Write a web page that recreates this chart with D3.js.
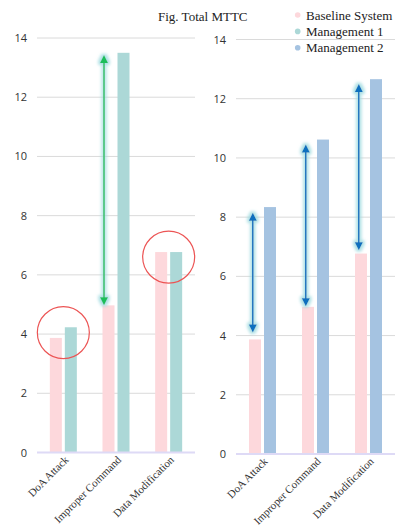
<!DOCTYPE html>
<html>
<head>
<meta charset="utf-8">
<script src="https://cdn.jsdelivr.net/npm/d3@7"></script>
<style>
  html, body { margin: 0; padding: 0; background: #fff; }
  svg { display: block; }
</style>
</head>
<body>
<div id="chart"></div>
<script>
// Mean time to contain (MTTC) per attack type
const categories = ["DoA Attack", "Improper Command", "Data Modification"];
const baseline = [3.87, 4.97, 6.77];
const management1 = [4.23, 13.5, 6.77];
const management2 = [8.34, 10.62, 12.66];
const yTicks = [0, 2, 4, 6, 8, 10, 12, 14];
const legendLabels = ["Baseline System", "Management 1", "Management 2"];

// Improvement arrows: [category index, from value, to value]
const arrowsLeft = [[1, 4.97, 13.43]];
const arrowsRight = [[0, 4.1, 8.15], [1, 4.99, 10.45], [2, 6.88, 12.5]];
// Highlight rings: [category index, centre value]
const rings = [[0, 4.05], [2, 6.6]];

const W = 398, H = 528;
const colors = { base: "#fdd8dc", m1: "#acd8d7", m2: "#a5c3e1" };
const serif = "'Liberation Serif', 'Times New Roman', serif";

const svg = d3.select("#chart").append("svg")
  .attr("width", W).attr("height", H);

// soft halo behind the arrows
const defs = svg.append("defs");
const glow = defs.append("filter").attr("id", "glow")
  .attr("x", "-200%").attr("y", "-20%").attr("width", "500%").attr("height", "140%");
glow.append("feMorphology").attr("in", "SourceAlpha").attr("operator", "dilate").attr("radius", 1.6).attr("result", "thick");
glow.append("feGaussianBlur").attr("in", "thick").attr("stdDeviation", 1.8).attr("result", "blur");
glow.append("feFlood").attr("flood-color", "#9fdbe0").attr("flood-opacity", 0.85);
glow.append("feComposite").attr("in2", "blur").attr("operator", "in").attr("result", "halo");
const merge = glow.append("feMerge");
merge.append("feMergeNode").attr("in", "halo");
merge.append("feMergeNode").attr("in", "SourceGraphic");

function panel(opts) {
  const g = svg.append("g");
  const y = d3.scaleLinear().domain([0, 14]).range([opts.y0, opts.y14]);
  const x0 = d3.scaleBand().domain(categories).range([opts.xl, opts.xr]);
  const groupW = 27;
  const x1 = d3.scaleBand().domain(["a", "b"]).range([0, groupW]).paddingInner(0.2);
  const gx = c => x0(c) + (x0.bandwidth() - groupW) / 2;

  // gridlines
  g.append("g").selectAll("line").data(yTicks.filter(t => t > 0)).join("line")
    .attr("x1", opts.xl).attr("x2", opts.xr)
    .attr("y1", d => y(d)).attr("y2", d => y(d))
    .attr("stroke", "#dadada").attr("stroke-width", 1);

  // y axis labels
  const yAxis = d3.axisLeft(y).tickValues(yTicks).tickSize(0).tickPadding(0);
  const ya = g.append("g").attr("transform", `translate(${opts.labelX},0)`).call(yAxis);
  ya.select(".domain").remove();
  ya.attr("font-family", "'Open Sans', sans-serif").attr("font-size", 11);
  ya.selectAll("text").attr("fill", "#333");

  // bars
  const series = [
    { key: "a", vals: baseline, color: colors.base },
    { key: "b", vals: opts.second, color: opts.secondColor }
  ];
  series.forEach(s => {
    g.append("g").selectAll("rect").data(categories).join("rect")
      .attr("x", c => gx(c) + x1(s.key))
      .attr("width", x1.bandwidth())
      .attr("y", (c, i) => y(s.vals[i]))
      .attr("height", (c, i) => y(0) - y(s.vals[i]))
      .attr("fill", s.color);
  });

  // zero line
  g.append("line").attr("x1", opts.xl).attr("x2", opts.xr)
    .attr("y1", y(0)).attr("y2", y(0))
    .attr("stroke", "#dedaf6").attr("stroke-width", 2);

  // category labels
  const xAxis = d3.axisBottom(x0).tickSize(0).tickPadding(0);
  const xa = g.append("g").attr("transform", `translate(0,${y(0)})`).call(xAxis);
  xa.select(".domain").remove();
  xa.attr("font-family", serif).attr("font-size", 11);
  xa.selectAll("text")
    .attr("fill", "#333")
    .attr("text-anchor", "end")
    .attr("dy", 0)
    .attr("transform", "translate(6,8) rotate(-45)");

  // arrows
  opts.arrows.forEach(([ci, from, to]) => {
    const ax = gx(categories[ci]) + x1("a") + opts.arrowOffset;
    const head = 8, hw = 4;
    const ag = g.append("g").attr("filter", "url(#glow)");
    const yTop = y(to), yBot = y(from);
    ag.append("line").attr("x1", ax).attr("x2", ax)
      .attr("y1", yTop + head - 1).attr("y2", yBot - head + 1)
      .attr("stroke", opts.arrowColor).attr("stroke-width", 1.5);
    ag.append("path")
      .attr("d", `M${ax},${yTop} L${ax - hw},${yTop + head} L${ax + hw},${yTop + head} Z`)
      .attr("fill", opts.arrowColor);
    ag.append("path")
      .attr("d", `M${ax},${yBot} L${ax - hw},${yBot - head} L${ax + hw},${yBot - head} Z`)
      .attr("fill", opts.arrowColor);
  });

  // highlight rings
  (opts.rings || []).forEach(([ci, v]) => {
    g.append("circle")
      .attr("cx", x0(categories[ci]) + x0.bandwidth() / 2)
      .attr("cy", y(v)).attr("r", 26)
      .attr("fill", "none").attr("stroke", "#ec5454").attr("stroke-width", 1.2);
  });
}

panel({
  xl: 37, xr: 195, y0: 452.5, y14: 38, labelX: 27,
  second: management1, secondColor: colors.m1,
  arrows: arrowsLeft, arrowColor: "#1fbe5a", arrowOffset: 1.5,
  rings: rings
});

panel({
  xl: 236, xr: 395, y0: 454, y14: 39.5, labelX: 226,
  second: management2, secondColor: colors.m2,
  arrows: arrowsRight, arrowColor: "#0d70be", arrowOffset: 3.8
});

// title
svg.append("text").attr("x", 158).attr("y", 20.5)
  .attr("font-family", serif)
  .attr("font-size", 13).attr("fill", "#222")
  .text("Fig. Total MTTC");

// legend
const legColors = [colors.base, colors.m1, colors.m2];
const leg = svg.append("g");
legendLabels.forEach((t, i) => {
  const ly = 15 + i * 16.4;
  leg.append("circle").attr("cx", 297.7).attr("cy", ly).attr("r", 2.8).attr("fill", legColors[i]);
  leg.append("text").attr("x", 306).attr("y", ly + 4.5)
    .attr("font-family", serif)
    .attr("font-size", 13).attr("fill", "#222")
    .text(t);
});
</script>
</body>
</html>
